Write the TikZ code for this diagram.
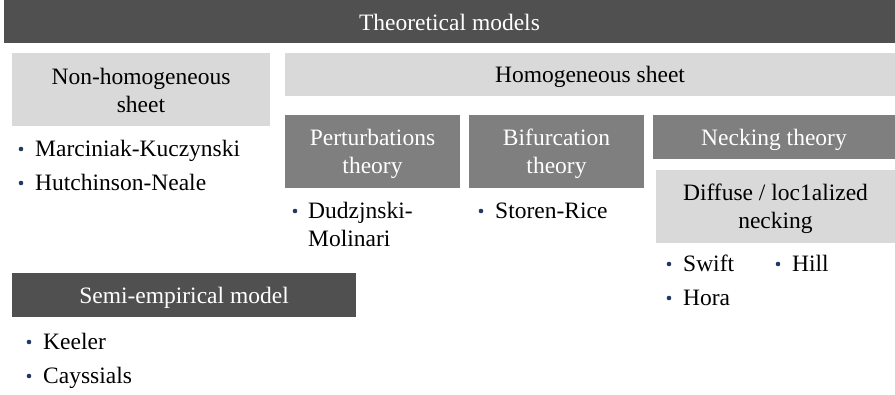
\documentclass[tikz,border=0pt]{standalone}
\usepackage{fontspec}
\setmainfont{Liberation Serif}
\usepackage{xcolor}

\definecolor{darkbar}{HTML}{505050}
\definecolor{midbar}{HTML}{7F7F7F}
\definecolor{lightbar}{HTML}{D9D9D9}
\definecolor{bulletblue}{HTML}{1F3864}

% same line height in every box line
\newcommand{\bstrut}{\rule[-5pt]{0pt}{27pt}}

\tikzset{
  box/.style={inner sep=0pt, align=center, font=\fontsize{23.5}{28}\selectfont},
  darkbox/.style={box, fill=darkbar, text=white},
  midbox/.style={box, fill=midbar, text=white},
  lightbox/.style={box, fill=lightbar, text=black},
  item/.style={anchor=base west, inner sep=0pt, align=left, font=\fontsize{23.5}{28}\selectfont},
}

\begin{document}
\begin{tikzpicture}[x=1pt, y=-1pt]
\useasboundingbox (0,0) rectangle (895,394);

% header and the two sheet groups
\node[darkbox, minimum width=891pt, minimum height=43pt] (theo) at (449.5,21.5) {\bstrut Theoretical models};
\node[lightbox, minimum width=258pt, minimum height=73pt] (nonhom) at (141,89.5) {\bstrut Non-homogeneous\\\bstrut sheet};
\node[lightbox, minimum width=610pt, minimum height=43pt] (hom) at (590,74.5) {\bstrut Homogeneous sheet};

% theories under the homogeneous sheet
\node[midbox, minimum width=175pt, minimum height=73pt] (pert) at (372.5,151.5) {\bstrut Perturbations\\\bstrut theory};
\node[midbox, minimum width=175pt, minimum height=73pt] (bif) at (556.5,151.5) {\bstrut Bifurcation\\\bstrut theory};
\node[midbox, minimum width=242pt, minimum height=44pt] (neck) at (774,137) {\bstrut Necking theory};
\node[lightbox, minimum width=239pt, minimum height=73pt] (diff) at (775.5,206.5) {\bstrut Diffuse / loc1alized\\\bstrut necking};

\node[darkbox, minimum width=344pt, minimum height=44pt] (semi) at (184,295) {\bstrut Semi-empirical model};

% bullet items (dm sits on its last line)
\node[item] (mk) at (35,156) {Marciniak-Kuczynski};
\node[item] (hn) at (35,190) {Hutchinson-Neale};
\node[item] (dm) at (308,246) {Dudzjnski-\\Molinari};
\node[item] (sr) at (495,218) {Storen-Rice};
\node[item] (sw) at (683,271) {Swift};
\node[item] (hl) at (792,271) {Hill};
\node[item] (ho) at (683,305) {Hora};
\node[item] (ke) at (43,349) {Keeler};
\node[item] (ca) at (43,383) {Cayssials};

\foreach \n in {mk,hn,sr,sw,hl,ho,ke,ca}
  \fill[bulletblue] ([xshift=-14pt,yshift=7pt]\n.base west) circle (2.3pt);
\fill[bulletblue] ([xshift=-13pt,yshift=35pt]dm.base west) circle (2.3pt);

\end{tikzpicture}
\end{document}
